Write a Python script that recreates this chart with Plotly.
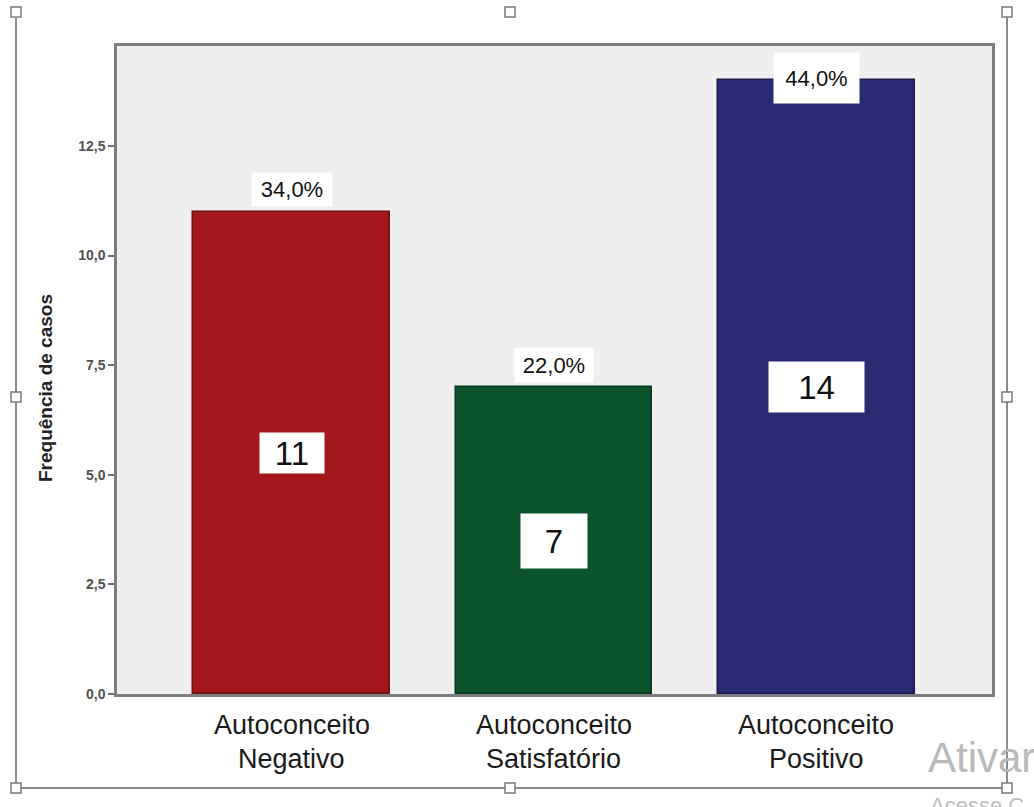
import plotly.graph_objects as go

# Categories and counts
cat_line1 = ["Autoconceito", "Autoconceito", "Autoconceito"]
cat_line2 = ["Negativo", "Satisfatório", "Positivo"]
counts = [11, 7, 14]
percent_labels = ["34,0%", "22,0%", "44,0%"]
bar_colors = ["#A3171A", "#0B532A", "#292A72"]
bar_edge = ["#6e1012", "#073a1d", "#1a1b4d"]

y_ticks = [0, 2.5, 5, 7.5, 10, 12.5]
y_tick_labels = ["0,0", "2,5", "5,0", "7,5", "10,0", "12,5"]

# label box sizes (px)
count_box_w = [64, 66, 95]
count_box_h = [40, 54, 50]
pct_box_w = [80, 78, 85]
pct_box_h = [33, 34, 50]

W, H = 1034, 807
L, R, T, B = 117, 992, 46, 694
Y_MAX = 14.78
X_RANGE = [-0.665, 2.669]
FONT = "Arial, Liberation Sans"


def px(xp):
    return (xp - L) / (R - L)


def py(yp):
    return (B - yp) / (B - T)


xs = list(range(len(counts)))

fig = go.Figure()
fig.add_trace(go.Bar(
    x=xs, y=counts, width=0.75,
    marker=dict(color=bar_colors, line=dict(color=bar_edge, width=1.5)),
    hoverinfo="skip",
))

annotations = []
for i, (c, p) in enumerate(zip(counts, percent_labels)):
    # count label in a white box at half bar height
    annotations.append(dict(
        x=i, y=c / 2, xref="x", yref="y", text=str(c), showarrow=False,
        font=dict(family=FONT, size=33, color="#111111"),
        bgcolor="white", borderpad=0, width=count_box_w[i], height=count_box_h[i],
        xanchor="center", yanchor="middle",
    ))
    # percentage label above the bar, kept inside the plot frame
    y_lab = min(c + 0.5, Y_MAX - 0.73)
    annotations.append(dict(
        x=i, y=y_lab, xref="x", yref="y", text=p, showarrow=False,
        font=dict(family=FONT, size=22, color="#111111"),
        bgcolor="white", borderpad=0, width=pct_box_w[i], height=pct_box_h[i],
        xanchor="center", yanchor="middle", valign="middle",
    ))

# category labels under the axis, two lines each
for i in xs:
    for text, yp in ((cat_line1[i], 725), (cat_line2[i], 759)):
        annotations.append(dict(
            x=i, y=py(yp), xref="x", yref="paper", text=text, showarrow=False,
            font=dict(family=FONT, size=27, color="#1a1a1a"),
            xanchor="center", yanchor="middle",
        ))

# axis title
annotations.append(dict(
    x=px(45), y=py(388), xref="paper", yref="paper", text="<b>Frequência de casos</b>",
    textangle=-90, showarrow=False,
    font=dict(family=FONT, size=19, color="#222222"),
    xanchor="center", yanchor="middle",
))

# window text in the lower right corner
annotations.append(dict(
    x=px(926), y=py(757), xref="paper", yref="paper", text="Ativar", showarrow=False,
    font=dict(family=FONT, size=42, color="#b8b8b8"),
    xanchor="left", yanchor="middle",
))
annotations.append(dict(
    x=px(928), y=py(806), xref="paper", yref="paper", text="Acesse C", showarrow=False,
    font=dict(family=FONT, size=22, color="#bcbcbc"),
    xanchor="left", yanchor="middle",
))

shapes = []
frame_col = "#8a8a8a"
# outer frame lines
shapes.append(dict(type="line", xref="paper", yref="paper", x0=px(16), x1=px(16), y0=py(18), y1=py(788),
                   line=dict(color=frame_col, width=2)))
shapes.append(dict(type="line", xref="paper", yref="paper", x0=px(1007), x1=px(1007), y0=py(18), y1=py(788),
                   line=dict(color=frame_col, width=2)))
shapes.append(dict(type="line", xref="paper", yref="paper", x0=px(16), x1=px(1007), y0=py(788), y1=py(788),
                   line=dict(color=frame_col, width=2)))
# resize handles
for hx, hy in [(16, 397), (1007, 397), (510, 788), (1007, 788), (16, 788), (16, 12), (510, 12), (1007, 12)]:
    shapes.append(dict(type="rect", xref="paper", yref="paper",
                       x0=px(hx - 5), x1=px(hx + 5), y0=py(hy + 5), y1=py(hy - 5),
                       line=dict(color="#7a7a7a", width=1.5), fillcolor="white"))

fig.update_layout(
    width=W, height=H,
    margin=dict(l=L, r=W - R, t=T, b=H - B),
    paper_bgcolor="white", plot_bgcolor="#EFEFEF",
    showlegend=False,
    annotations=annotations, shapes=shapes,
    bargap=0,
)
fig.update_xaxes(
    range=X_RANGE, showticklabels=False, ticks="", showgrid=False, zeroline=False,
    showline=True, mirror=True, linecolor="#7d7d7d", linewidth=2.5,
)
fig.update_yaxes(
    range=[0, Y_MAX], tickvals=y_ticks, ticktext=y_tick_labels,
    ticks="outside", ticklen=6, tickwidth=2, tickcolor="#6f6f6f",
    tickfont=dict(family=FONT, size=14, color="#505050", weight="bold"),
    showgrid=False, zeroline=False,
    showline=True, mirror=True, linecolor="#7d7d7d", linewidth=2.5,
)

fig.write_html("out.html")
